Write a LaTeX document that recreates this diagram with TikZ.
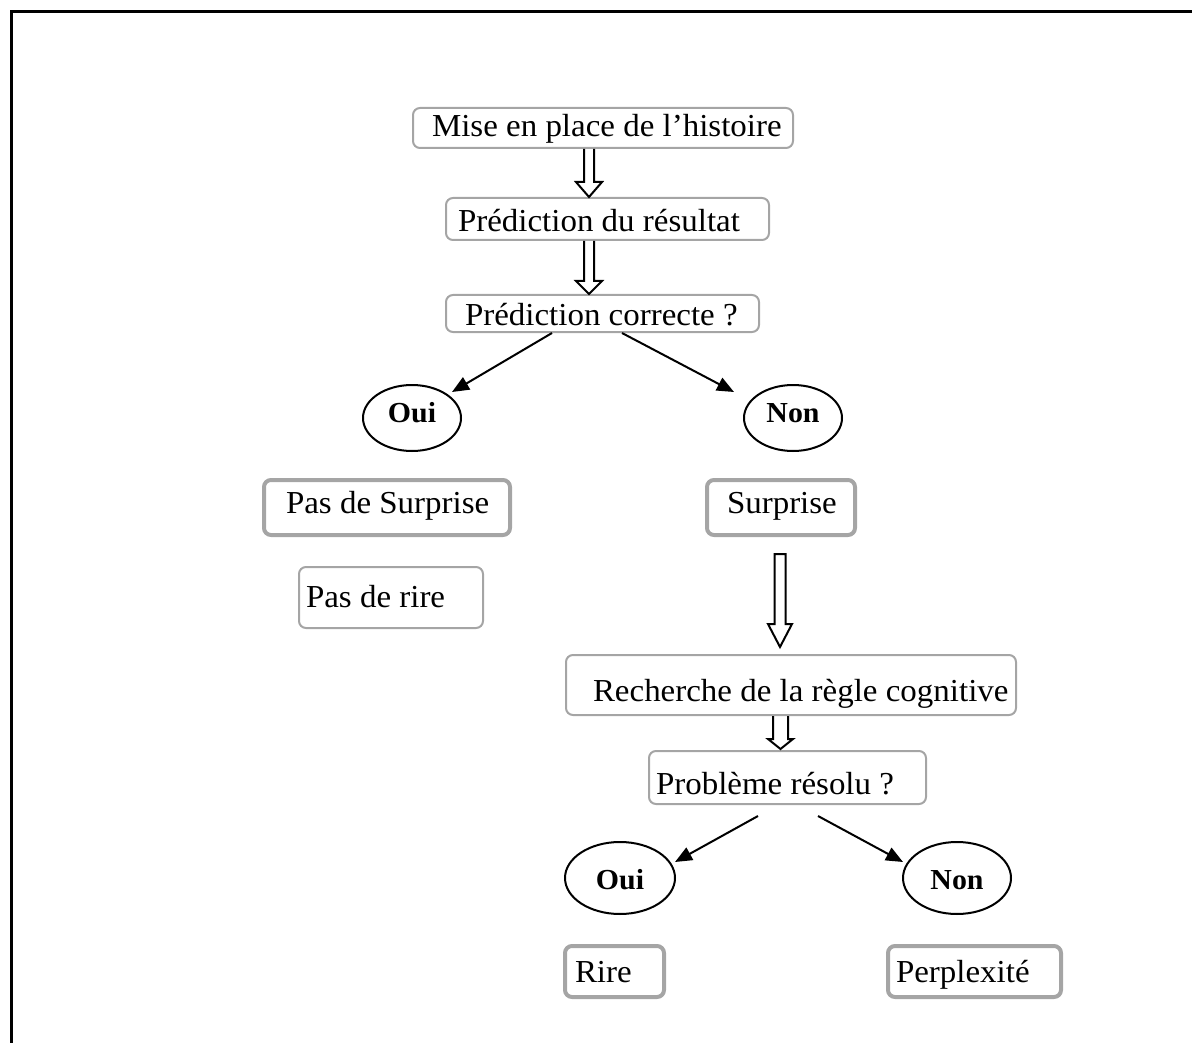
\documentclass[tikz,border=0pt]{standalone}
\usepackage{fontspec}
\setmainfont[FakeStretch=1.03]{Liberation Serif}
\usetikzlibrary{calc,arrows.meta,shapes.geometric}
\definecolor{boxgray}{RGB}{165,165,165}
\newcommand\bt[3]{\makebox[#1pt][l]{\hspace{#2pt}#3}}
% hollow block arrow: #1 x, #2 start anchor, #3 start offset down, #4 end anchor,
% #5 end offset up, #6 shaft half width, #7 head half width, #8 head length, #9 closing
\newcommand\harrow[9]{%
  \draw[hollowarrow] let \p1=(#2), \p2=(#4) in
    ({(#1-#6)*1pt},{\y1-#3pt}) -- ({(#1-#6)*1pt},{\y2+#5pt+#8pt})
    -- ({(#1-#7)*1pt},{\y2+#5pt+#8pt}) -- ({#1pt},{\y2+#5pt})
    -- ({(#1+#7)*1pt},{\y2+#5pt+#8pt}) -- ({(#1+#6)*1pt},{\y2+#5pt+#8pt})
    -- ({(#1+#6)*1pt},{\y1-#3pt}) #9;}
\tikzset{
  bx/.style={draw=boxgray, line width=2pt, rounded corners=7pt, inner sep=0pt,
    text depth=0pt, font=\fontsize{32}{38}\selectfont},
  bxthick/.style={bx, line width=4pt},
  oval/.style={ellipse, draw=black, line width=2pt, inner sep=0pt, text depth=0pt,
    font=\fontsize{29}{34}\selectfont\bfseries},
  hollowarrow/.style={draw=black, line width=2pt, line join=miter},
  choice/.style={draw=black, line width=2pt, -{Triangle[length=17pt,width=14pt]}},
  frame/.style={draw=black, line width=3pt}
}
\begin{document}
\begin{tikzpicture}[x=1pt,y=-1pt]
\useasboundingbox (0,0) rectangle (1192,1043);
% outer frame (top and left edges)
\coordinate (fa) at (11.5,1043);
\coordinate (fb) at (11.5,11.5);
\coordinate (fc) at (1192,11.5);
\draw[frame] (fa) -- (fb) -- (fc);

% boxes
\node[bx, minimum height=40, text height=18pt] (b1) at (603,128)
  {\bt{380}{19}{Mise en place de l’histoire}};
\node[bx, minimum height=42, text height=26pt] (b2) at (607.5,219)
  {\bt{323}{12}{Prédiction du résultat}};
\node[bx, minimum height=37, text height=23pt] (b3) at (602.5,313.5)
  {\bt{313}{19}{Prédiction correcte ?}};
\node[bxthick, minimum height=55, text height=11pt] (pds) at (387,507.5)
  {\bt{246}{22}{Pas de Surprise}};
\node[bxthick, minimum height=55, text height=11pt] (sur) at (781,507.5)
  {\bt{148}{20}{Surprise}};
\node[bx, minimum height=61, text height=19pt] (pdr) at (391,597.5)
  {\bt{184}{7}{Pas de rire}};
\node[bx, minimum height=60, text height=32pt] (rech) at (791,685)
  {\bt{450}{27}{Recherche de la règle cognitive}};
\node[bx, minimum height=53, text height=33pt] (prob) at (787.5,777.5)
  {\bt{277}{7}{Problème résolu ?}};
\node[bxthick, minimum height=51, text height=21pt] (rire) at (614.5,971.5)
  {\bt{99}{10}{Rire}};
\node[bxthick, minimum height=51, text height=21pt] (perp) at (974.5,971.5)
  {\bt{173}{8}{Perplexité}};

% ellipses
\node[oval, minimum width=98, minimum height=66, text height=8pt] (oui1) at (412,418) {Oui};
\node[oval, minimum width=98, minimum height=66, text height=8pt] (non1) at (793,418) {Non};
\node[oval, minimum width=110, minimum height=72, text height=22pt] (oui2) at (620,878) {Oui};
\node[oval, minimum width=108, minimum height=72, text height=22pt] (non2) at (957,878) {Non};

% hollow block arrows
\harrow{589}{b1.south}{0}{b2.north}{0}{5}{13}{15}{}
\harrow{589}{b2.south}{0}{b3.north}{0}{5}{13}{13}{}
\harrow{780}{sur.south}{17}{rech.north}{7}{5.5}{12}{23}{-- cycle}
\harrow{780.5}{rech.south}{0}{prob.north}{1}{7.5}{12.5}{10}{}

% decision arrows
\draw[choice] ($(b3.south)+(-50.5,0)$) -- ($(oui1.center)+(40,-26)$);
\draw[choice] ($(b3.south)+(19.5,0)$) -- ($(non1.center)+(-59,-26)$);
\draw[choice] ($(prob.south)+(-29.5,11)$) -- ($(oui2.center)+(55,-16)$);
\draw[choice] ($(prob.south)+(30.5,11)$) -- ($(non2.center)+(-54,-16)$);
\end{tikzpicture}
\end{document}
